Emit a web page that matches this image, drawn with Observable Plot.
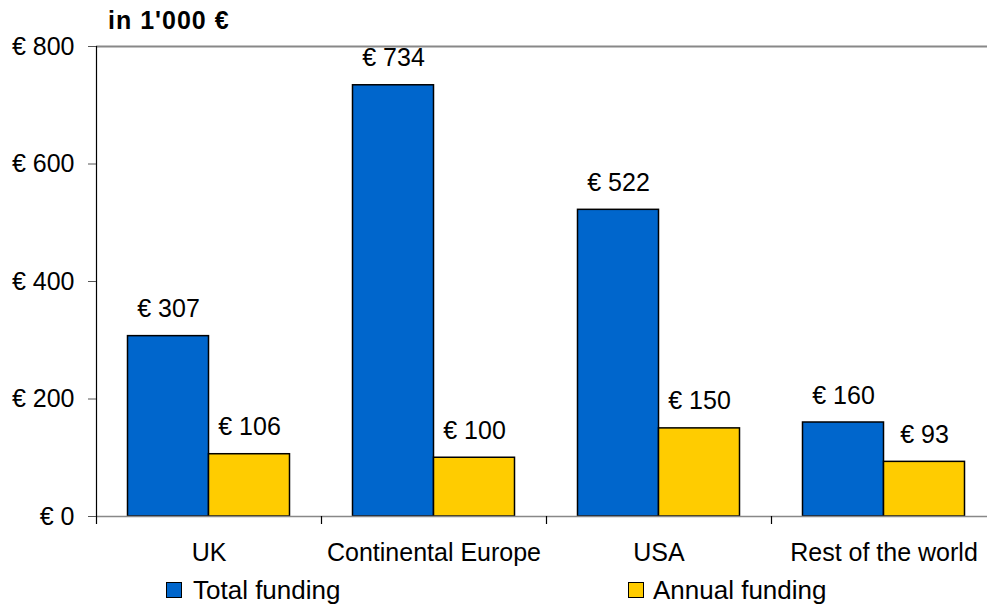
<!DOCTYPE html>
<html>
<head>
<meta charset="utf-8">
<script src="https://cdn.jsdelivr.net/npm/d3@7"></script>
<script src="https://cdn.jsdelivr.net/npm/@observablehq/plot@0.6"></script>
<style>
  html, body { margin: 0; padding: 0; background: white; overflow: hidden; }
  #wrap { position: relative; width: 987px; height: 606px; overflow: hidden; font-family: "Liberation Sans", Arial, sans-serif; color: black; }
  #title { position: absolute; left: 108px; top: 8px; font-size: 25px; font-weight: bold; letter-spacing: 1px; line-height: 1; white-space: nowrap; }
  .leg { position: absolute; top: 577px; font-size: 26px; line-height: 1; white-space: nowrap; }
  .sw { position: absolute; width: 14px; height: 14px; border: 1.5px solid black; top: 581.5px; }
  #chart { position: absolute; left: 0; top: 0; width: 996px; }
  #chart svg { max-width: none !important; width: 996px; height: 606px; }
</style>
</head>
<body>
<div id="wrap">
  <div id="chart"></div>
  <div id="title">in 1'000 €</div>
  <div id="legend"></div>
</div>
<script>
const categories = ["UK", "Continental Europe", "USA", "Rest of the world"];
const totalFunding = [307, 734, 522, 160];
const annualFunding = [106, 100, 150, 93];
const seriesNames = ["Total funding", "Annual funding"];
const seriesColors = ["#0066CC", "#FFCC00"];
const yTicks = [0, 200, 400, 600, 800];
const titleText = "in 1'000 €";

const totalData = categories.map((c, i) => ({category: c, series: seriesNames[0], value: totalFunding[i]}));
const annualData = categories.map((c, i) => ({category: c, series: seriesNames[1], value: annualFunding[i]}));

const W = 996, H = 606, mL = 96, mR = 0, mT = 46, mB = 90;
const band = (W - mL - mR) / categories.length;
const barW = 81;
const outer = (band - 2 * barW) / 2;
const euro = v => "€ " + v;

document.getElementById("title").textContent = titleText;

const chart = Plot.plot({
  width: W,
  height: H,
  marginLeft: mL,
  marginRight: mR,
  marginTop: mT,
  marginBottom: mB,
  style: {fontFamily: "'Liberation Sans', Arial, sans-serif", fontSize: "25px", color: "black", background: "white", maxWidth: "none"},
  x: {domain: categories, padding: 0, label: null},
  y: {domain: [0, 800], label: null},
  marks: [
    Plot.ruleY([800], {stroke: "#888888", strokeWidth: 2}),
    Plot.barY(totalData, {x: "category", y: "value", fill: seriesColors[0], stroke: "black", strokeWidth: 1.5,
      insetLeft: outer, insetRight: band - outer - barW}),
    Plot.barY(annualData, {x: "category", y: "value", fill: seriesColors[1], stroke: "black", strokeWidth: 1.5,
      insetLeft: outer + barW, insetRight: outer}),
    Plot.ruleY([0], {stroke: "#888888", strokeWidth: 1.5}),
    Plot.ruleX([categories[0]], {dx: -band / 2, y1: 800, y2: 0, insetBottom: -8, stroke: "black", strokeWidth: 1.2}),
    Plot.ruleX(categories.slice(1), {dx: -band / 2, y1: 0, y2: 0, insetBottom: -8, stroke: "black", strokeWidth: 1.2}),
    Plot.text(totalData, {x: "category", y: "value", text: d => euro(d.value), dx: -barW / 2, dy: -19, lineAnchor: "bottom", fill: "black", fontSize: 25}),
    Plot.text(annualData, {x: "category", y: "value", text: d => euro(d.value), dx: barW / 2, dy: -19, lineAnchor: "bottom", fill: "black", fontSize: 25}),
    Plot.axisY({ticks: yTicks, tickSize: 8, tickPadding: 14, tickFormat: d => euro(d), stroke: "#555555", fill: "black", label: null, fontSize: 25}),
    Plot.axisX({tickSize: 0, tickPadding: 27, label: null, fill: "black", fontSize: 25})
  ]
});
document.getElementById("chart").appendChild(chart);

const legend = document.getElementById("legend");
const legPos = [{sw: 166, tx: 193}, {sw: 628, tx: 653}];
seriesNames.forEach((name, i) => {
  const s = document.createElement("div");
  s.className = "sw";
  s.style.left = legPos[i].sw + "px";
  s.style.background = seriesColors[i];
  legend.appendChild(s);
  const t = document.createElement("div");
  t.className = "leg";
  t.style.left = legPos[i].tx + "px";
  t.textContent = name;
  legend.appendChild(t);
});
</script>
</body>
</html>
